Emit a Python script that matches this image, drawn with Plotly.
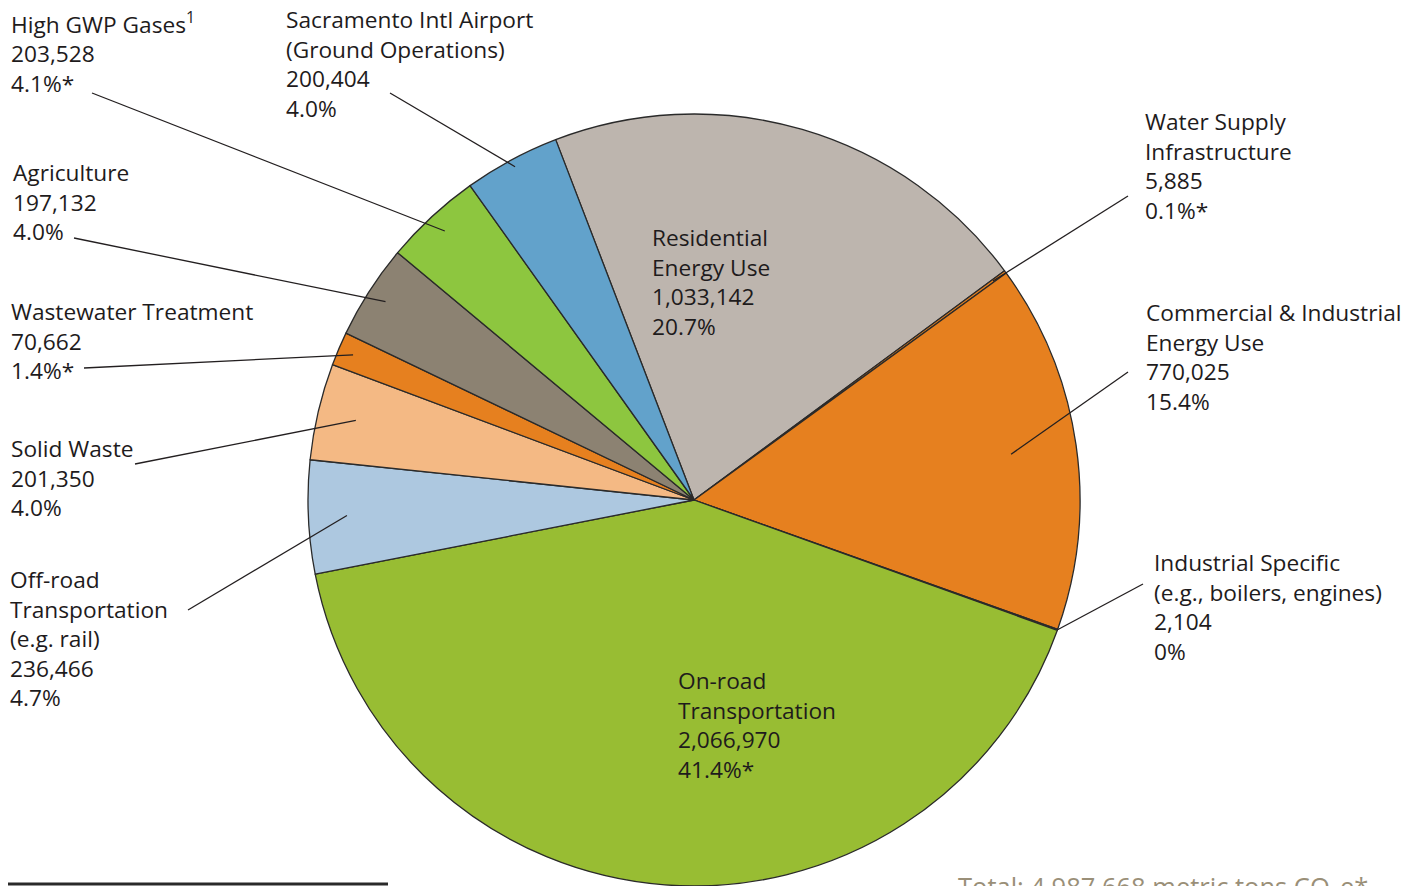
import math
import plotly.graph_objects as go

W, H = 1421, 886

# ---- data ----
categories = [
    "Residential<br>Energy Use",
    "Water Supply<br>Infrastructure",
    "Commercial & Industrial<br>Energy Use",
    "Industrial Specific<br>(e.g., boilers, engines)",
    "On-road<br>Transportation",
    "Off-road<br>Transportation<br>(e.g. rail)",
    "Solid Waste",
    "Wastewater Treatment",
    "Agriculture",
    "High GWP Gases<sup>1</sup>",
    "Sacramento Intl Airport<br>(Ground Operations)",
]
values = [1033142, 5885, 770025, 2104, 2066970, 236466, 201350, 70662, 197132, 203528, 200404]
pct_labels = ["20.7%", "0.1%*", "15.4%", "0%", "41.4%*", "4.7%", "4.0%", "1.4%*", "4.0%", "4.1%*", "4.0%"]
total_label = "Total: 4,987,668 metric tons CO<sub>2</sub>e*"

# ---- styles ----
colors = ["#bdb5ae", "#e6801f", "#e6801f", "#e6801f", "#98bd33", "#adc8e0",
          "#f4b984", "#e6801f", "#8c8272", "#8dc63f", "#62a2cb"]
text_color = "#1e1b1c"
FONT = "Open Sans"
FS = 22.7

# ---- layout geometry (pixels) ----
CX, CY, R = 694, 500, 386
ROT = -21
# label left x and centre y of first line
label_pos = [(651, 237), (1144, 121), (1145, 312), (1153, 562), (677, 680), (9, 579),
             (10, 448), (10, 311), (12, 172), (10, 21), (285, 19)]
# leader line outer end and inner radius fraction (None = no line)
leader_out = [None, (1128, 196), (1128, 372), (1143, 584), None, (188, 610),
              (135, 464), (84, 368), (74, 238), (92, 93), (390, 93)]
leader_rf = [None, 0.96, 0.83, 1.0, None, 0.9, 0.9, 0.96, 0.95, 0.95, 0.98]


def px(x):
    return x / W


def py(y):
    return 1 - y / H


fig = go.Figure()
fig.add_trace(go.Pie(
    values=values,
    labels=[c.replace("<br>", " ") for c in categories],
    sort=False,
    direction="clockwise",
    rotation=ROT,
    marker=dict(colors=colors, line=dict(color="#2a2a2a", width=1.3)),
    textinfo="none",
    hoverinfo="label+value+percent",
    showlegend=False,
    domain=dict(x=[px(CX - R), px(CX + R)], y=[py(CY + R), py(CY - R)]),
))

total = sum(values)
cum = 0
shapes = []
annotations = []
for i, v in enumerate(values):
    mid = ROT + 360 * (cum + v / 2) / total
    cum += v
    text = f"{categories[i]}<br>{v:,}<br>{pct_labels[i]}"
    lx, ly = label_pos[i]
    annotations.append(dict(
        x=px(lx), y=py(ly - FS * 1.3 / 2 - 1), xref="paper", yref="paper",
        xanchor="left", yanchor="top", align="left", showarrow=False,
        text=text, font=dict(family=FONT, size=FS, color=text_color), borderpad=0,
    ))
    if leader_out[i] is not None:
        a = math.radians(mid)
        rf = leader_rf[i]
        ix = CX + rf * R * math.sin(a)
        iy = CY - rf * R * math.cos(a)
        ox, oy = leader_out[i]
        shapes.append(dict(type="line", xref="paper", yref="paper",
                           x0=px(ox), y0=py(oy), x1=px(ix), y1=py(iy),
                           line=dict(color="#231f20", width=1.3)))

# bottom rule and total
shapes.append(dict(type="line", xref="paper", yref="paper",
                   x0=px(8), x1=px(388), y0=py(884), y1=py(884),
                   line=dict(color="#2a2a2a", width=3)))
annotations.append(dict(
    x=px(956), y=py(867), xref="paper", yref="paper", xanchor="left", yanchor="top",
    showarrow=False, text=total_label, font=dict(family=FONT, size=25.5, color="#9a8f78"),
))

fig.update_layout(
    width=W, height=H, margin=dict(l=0, r=0, t=0, b=0),
    paper_bgcolor="white", plot_bgcolor="white",
    shapes=shapes, annotations=annotations,
)
fig.write_html("out.html", config={"displayModeBar": False},
               post_script="document.body.style.margin='0';document.body.style.overflow='hidden';")
